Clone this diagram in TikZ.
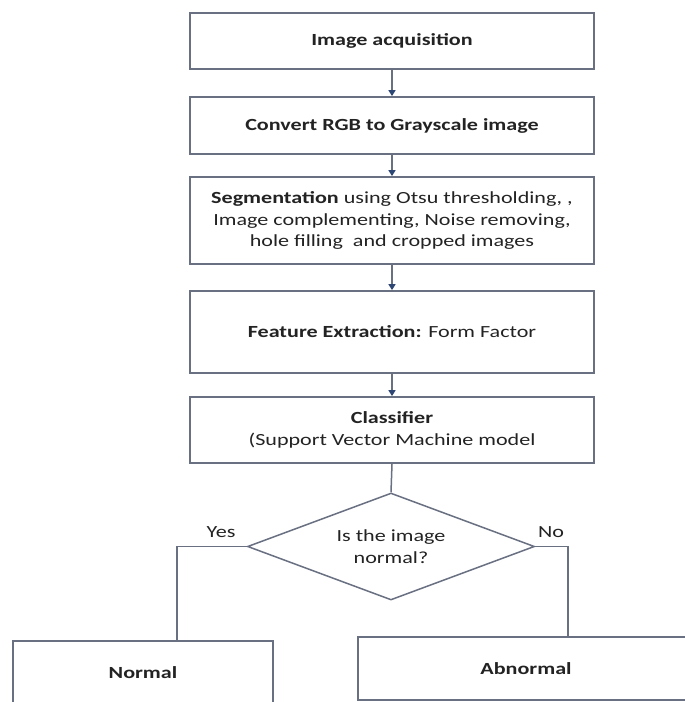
\documentclass[tikz,border=0pt]{standalone}
\usepackage{fontspec}
\setmainfont{Carlito}[FakeStretch=1.3]
\usetikzlibrary{shapes.geometric,arrows.meta}
\definecolor{edge}{RGB}{105,112,130}
\definecolor{tipc}{RGB}{45,70,115}
\definecolor{txt}{RGB}{35,35,35}
\tikzset{
  stepbox/.style={draw=edge, line width=1.8pt, rectangle, minimum width=404pt, inner sep=0pt, align=center, text=txt},
  conn/.style={draw=edge, line width=1.5pt},
  arr/.style={conn, -{Triangle[length=6pt,width=7pt,fill=tipc,color=tipc]}},
  lbl/.style={text=txt, inner sep=0pt},
}
\begin{document}
\begin{tikzpicture}[x=1pt,y=-1pt, font=\fontsize{17}{21.7}\selectfont]
\path[use as bounding box, clip] (0,0) rectangle (685,702);
\fill[white] (0,0) rectangle (685,702);
\node[stepbox, minimum height=56pt] (b1) at (392,41) {\textbf{Image acquisition}};
\node[stepbox, minimum height=57pt] (b2) at (392,125.5) {\textbf{Convert RGB to Grayscale image}};
\node[stepbox, minimum height=87pt] (b3) at (392,220.5) {\textbf{Segmentation} using Otsu thresholding,~,\\[0pt]Image complementing, Noise removing,\\[0pt]hole filling~ and cropped images};
\node[stepbox, minimum height=82pt] (b4) at (392,332) {\textbf{Feature Extraction:} Form Factor};
\node[stepbox, minimum height=66pt] (b5) at (392,430) {\textbf{Classifier}\\(Support Vector Machine model};
\node[draw=edge, line width=1.5pt, diamond, aspect=2.68, minimum width=287pt, minimum height=107pt, inner sep=0pt, align=center, text=txt] (dia) at (391,546.5) {Is the image\\normal?};
\node[stepbox, minimum width=260pt, minimum height=64pt] (nor) at (143,673) {\textbf{Normal}};
\node[stepbox, minimum width=336pt, minimum height=63pt] (abn) at (526,668.5) {\textbf{Abnormal}};
\draw[arr] (b1.south) -- (b2.north);
\draw[arr] (b2.south) -- (b3.north);
\draw[arr] (b3.south) -- (b4.north);
\draw[arr] (b4.south) -- (b5.north);
\draw[conn] (b5.south) -- (dia.north);
\draw[conn] (dia.west) -| ([xshift=34pt]nor.north);
\draw[conn] (dia.east) -| ([xshift=42pt]abn.north);
\node[lbl] (yes) at (221,532) {Yes};
\node[lbl] (no) at (551,532) {No};
\end{tikzpicture}
\end{document}
